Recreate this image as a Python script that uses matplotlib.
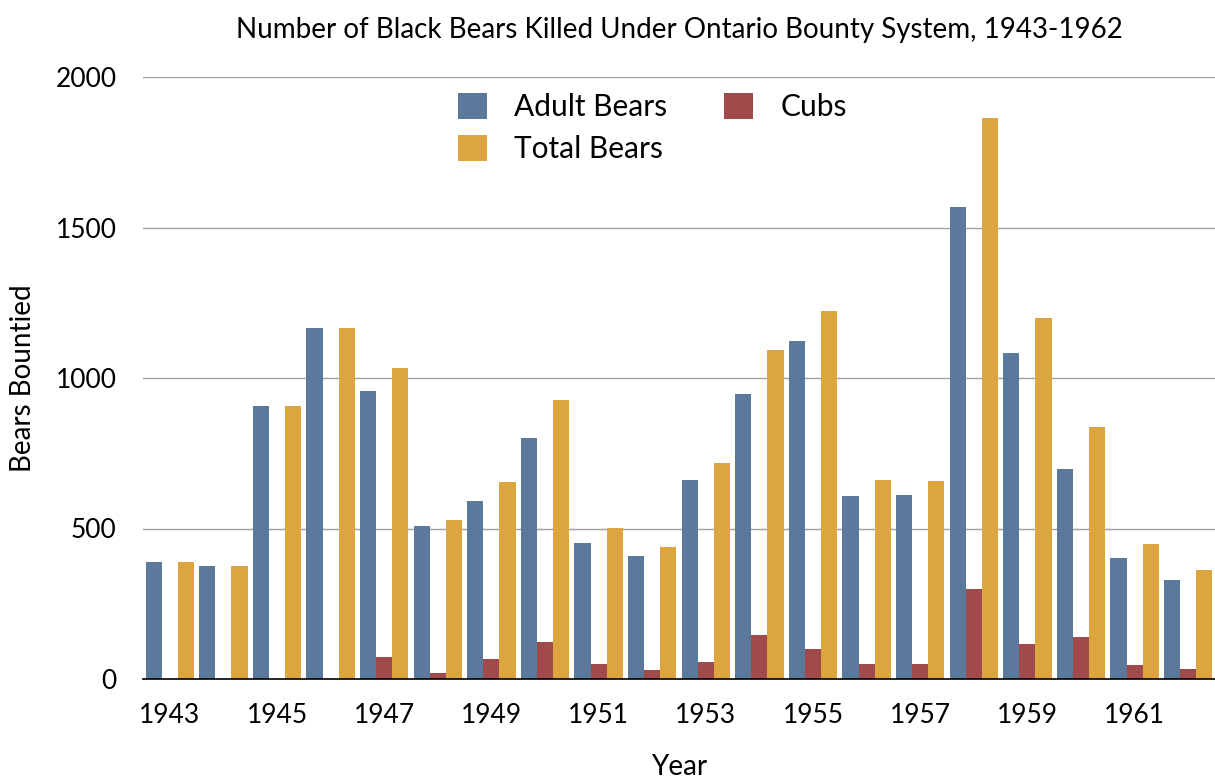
import numpy as np
import matplotlib
matplotlib.use('Agg')
import matplotlib.pyplot as plt

# 연도와 곰 수
years = list(range(1943, 1963))
adult = [388, 374, 908, 1167, 958, 508, 590, 802, 451, 408, 661, 946, 1123, 609, 611, 1568, 1082, 698, 401, 329]
cubs = [0, 0, 0, 0, 74, 19, 66, 124, 50, 30, 57, 146, 99, 49, 49, 300, 117, 140, 47, 33]
total = [388, 374, 908, 1167, 1032, 527, 656, 926, 501, 438, 718, 1092, 1224, 660, 658, 1865, 1200, 838, 448, 362]
tick_years = years[::2]

plt.rcParams['font.family'] = ['Lato', 'DejaVu Sans']

fig = plt.figure(figsize=(12.15, 7.82), dpi=100)
ax = fig.add_axes([143 / 1215, 1 - 679 / 782, 1072 / 1215, 602 / 782])

x = np.arange(len(years))
w = 0.3
ax.bar(x - w, adult, w, color='#5b7a9b', label='Adult Bears', zorder=3)
ax.bar(x + w, total, w, color='#dda53d', label='Total Bears', zorder=3)
ax.bar(x, cubs, w, color='#a04a4c', label='Cubs', zorder=3)

ax.set_xlim(-0.5, len(years) - 0.5)
ax.set_ylim(0, 2000)
ax.set_yticks([0, 500, 1000, 1500, 2000])
ax.set_xticks([years.index(y) for y in tick_years])
ax.set_xticklabels([str(y) for y in tick_years])
ax.tick_params(axis='both', length=0, labelsize=19)
ax.tick_params(axis='y', pad=19)
ax.tick_params(axis='x', pad=17)

ax.grid(axis='y', color='#a0a0a0', linewidth=1, zorder=0)
for s in ['top', 'right', 'left']:
    ax.spines[s].set_visible(False)
ax.spines['bottom'].set_color('black')
ax.spines['bottom'].set_linewidth(1.2)
ax.spines['bottom'].set_zorder(4)

ax.set_title('Number of Black Bears Killed Under Ontario Bounty System, 1943-1962',
             fontsize=20, pad=28)
ax.set_ylabel('Bears Bountied', fontsize=20, labelpad=14)
ax.set_xlabel('Year', fontsize=20, labelpad=19)

ax.legend(ncol=2, loc='upper left', bbox_to_anchor=(0.294, 0.974), frameon=False,
          fontsize=21.5, borderpad=0, borderaxespad=0, handlelength=0.98, handleheight=0.98,
          handletextpad=0.9, columnspacing=1.9, labelspacing=0.45)

fig.savefig('out.png', dpi=100)
